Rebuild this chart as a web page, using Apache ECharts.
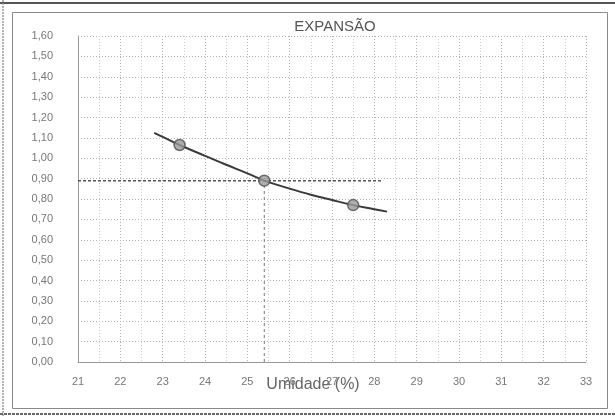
<!DOCTYPE html>
<html>
<head>
<meta charset="utf-8">
<script src="https://cdn.jsdelivr.net/npm/echarts@6/dist/echarts.min.js"></script>
<style>
  html, body { margin: 0; padding: 0; background: #fff; }
  #chart { width: 615px; height: 417px; }
</style>
</head>
<body>
<div id="chart"></div>
<script>
// Measured expansion points (moisture %, expansion)
const pointX = [23.4, 25.4, 27.5];
const pointY = [1.065, 0.89, 0.77];

// Fitted trend curve through the measurements
const curveX = [22.8, 23.0, 23.4, 24.0, 24.5, 25.0, 25.4, 26.0, 26.5, 27.0, 27.5, 28.0, 28.3];
const curveY = [1.125, 1.105, 1.065, 1.012, 0.968, 0.926, 0.89, 0.851, 0.821, 0.795, 0.77, 0.75, 0.738];

// Reading of the optimum: expansion 0.89 at 25.4 % moisture
const readXStart = 21;
const readX = 25.4;
const readXEnd = 28.2;
const readY = 0.89;

const yTicks = ['0,00','0,10','0,20','0,30','0,40','0,50','0,60','0,70','0,80','0,90','1,00','1,10','1,20','1,30','1,40','1,50','1,60'];

const chart = echarts.init(document.getElementById('chart'));

const font = 'Liberation Sans, Arial, sans-serif';
const gridStyle = { color: '#b4b4b4', type: [1, 2], width: 1 };
const labelFont = { fontFamily: font, color: '#777', fontSize: 11 };

chart.setOption({
  animation: false,
  backgroundColor: '#fff',
  title: {
    text: 'EXPANSÃO',
    left: 330,
    textAlign: 'center',
    top: 14,
    textStyle: { fontFamily: font, fontSize: 15, fontWeight: 'normal', color: '#555' }
  },
  grid: { left: 78, right: 29, top: 36, bottom: 55 },
  xAxis: {
    type: 'value',
    min: 21, max: 33, interval: 1,
    name: 'Umidade (%)',
    nameLocation: 'middle',
    nameGap: 15,
    nameMoveOverlap: false,
    nameTextStyle: { fontFamily: font, fontSize: 16, color: '#666', padding: [0, 38, 0, 0] },
    axisLine: { show: true, lineStyle: { color: '#999', width: 1 } },
    axisTick: { show: false },
    axisLabel: Object.assign({ margin: 14 }, labelFont),
    splitLine: { show: true, lineStyle: gridStyle },
    minorTick: { show: false, splitNumber: 2 },
    minorSplitLine: { show: true, lineStyle: { color: '#cdcdcd', type: [1, 2], width: 1 } }
  },
  yAxis: {
    type: 'value',
    min: 0, max: 1.6, interval: 0.1,
    axisLine: { show: true, lineStyle: { color: '#999', width: 1 } },
    axisTick: { show: false },
    axisLabel: Object.assign({
      margin: 25,
      formatter: (v) => yTicks[Math.round(v * 10)]
    }, labelFont),
    splitLine: { show: true, lineStyle: gridStyle }
  },
  series: [
    {
      name: 'leitura',
      type: 'line',
      data: [[readXStart, readY], [readXEnd, readY]],
      symbol: 'none',
      lineStyle: { color: '#555', width: 1.5, type: [3, 2] },
      silent: true
    },
    {
      name: 'leitura-v',
      type: 'line',
      data: [[readX, 0], [readX, readY]],
      symbol: 'none',
      lineStyle: { color: '#777', width: 1, type: [3, 3] },
      silent: true
    },
    {
      name: 'curva',
      type: 'line',
      data: curveX.map((x, i) => [x, curveY[i]]),
      smooth: 0.4,
      symbol: 'none',
      lineStyle: { color: '#3a3a3a', width: 2 }
    },
    {
      name: 'pontos',
      type: 'scatter',
      data: pointX.map((x, i) => [x, pointY[i]]),
      symbol: 'circle',
      symbolSize: 11,
      itemStyle: { color: '#9a9a9a', borderColor: '#505050', borderWidth: 1.5 },
      z: 5
    }
  ],
  graphic: [
    { type: 'rect', shape: { x: 12.5, y: 12.5, width: 595, height: 396 }, style: { fill: 'none', stroke: '#8a8a8a', lineWidth: 1 }, silent: true },
    { type: 'line', shape: { x1: 0, y1: 3, x2: 615, y2: 3 }, style: { stroke: '#555', lineWidth: 2 }, silent: true },
    { type: 'line', shape: { x1: 3, y1: 0, x2: 3, y2: 417 }, style: { stroke: '#999', lineWidth: 1.5, lineDash: [2, 1] }, silent: true },
    { type: 'line', shape: { x1: 0, y1: 414, x2: 615, y2: 414 }, style: { stroke: '#666', lineWidth: 2, lineDash: [3, 1] }, silent: true }
  ]
});
</script>
</body>
</html>
